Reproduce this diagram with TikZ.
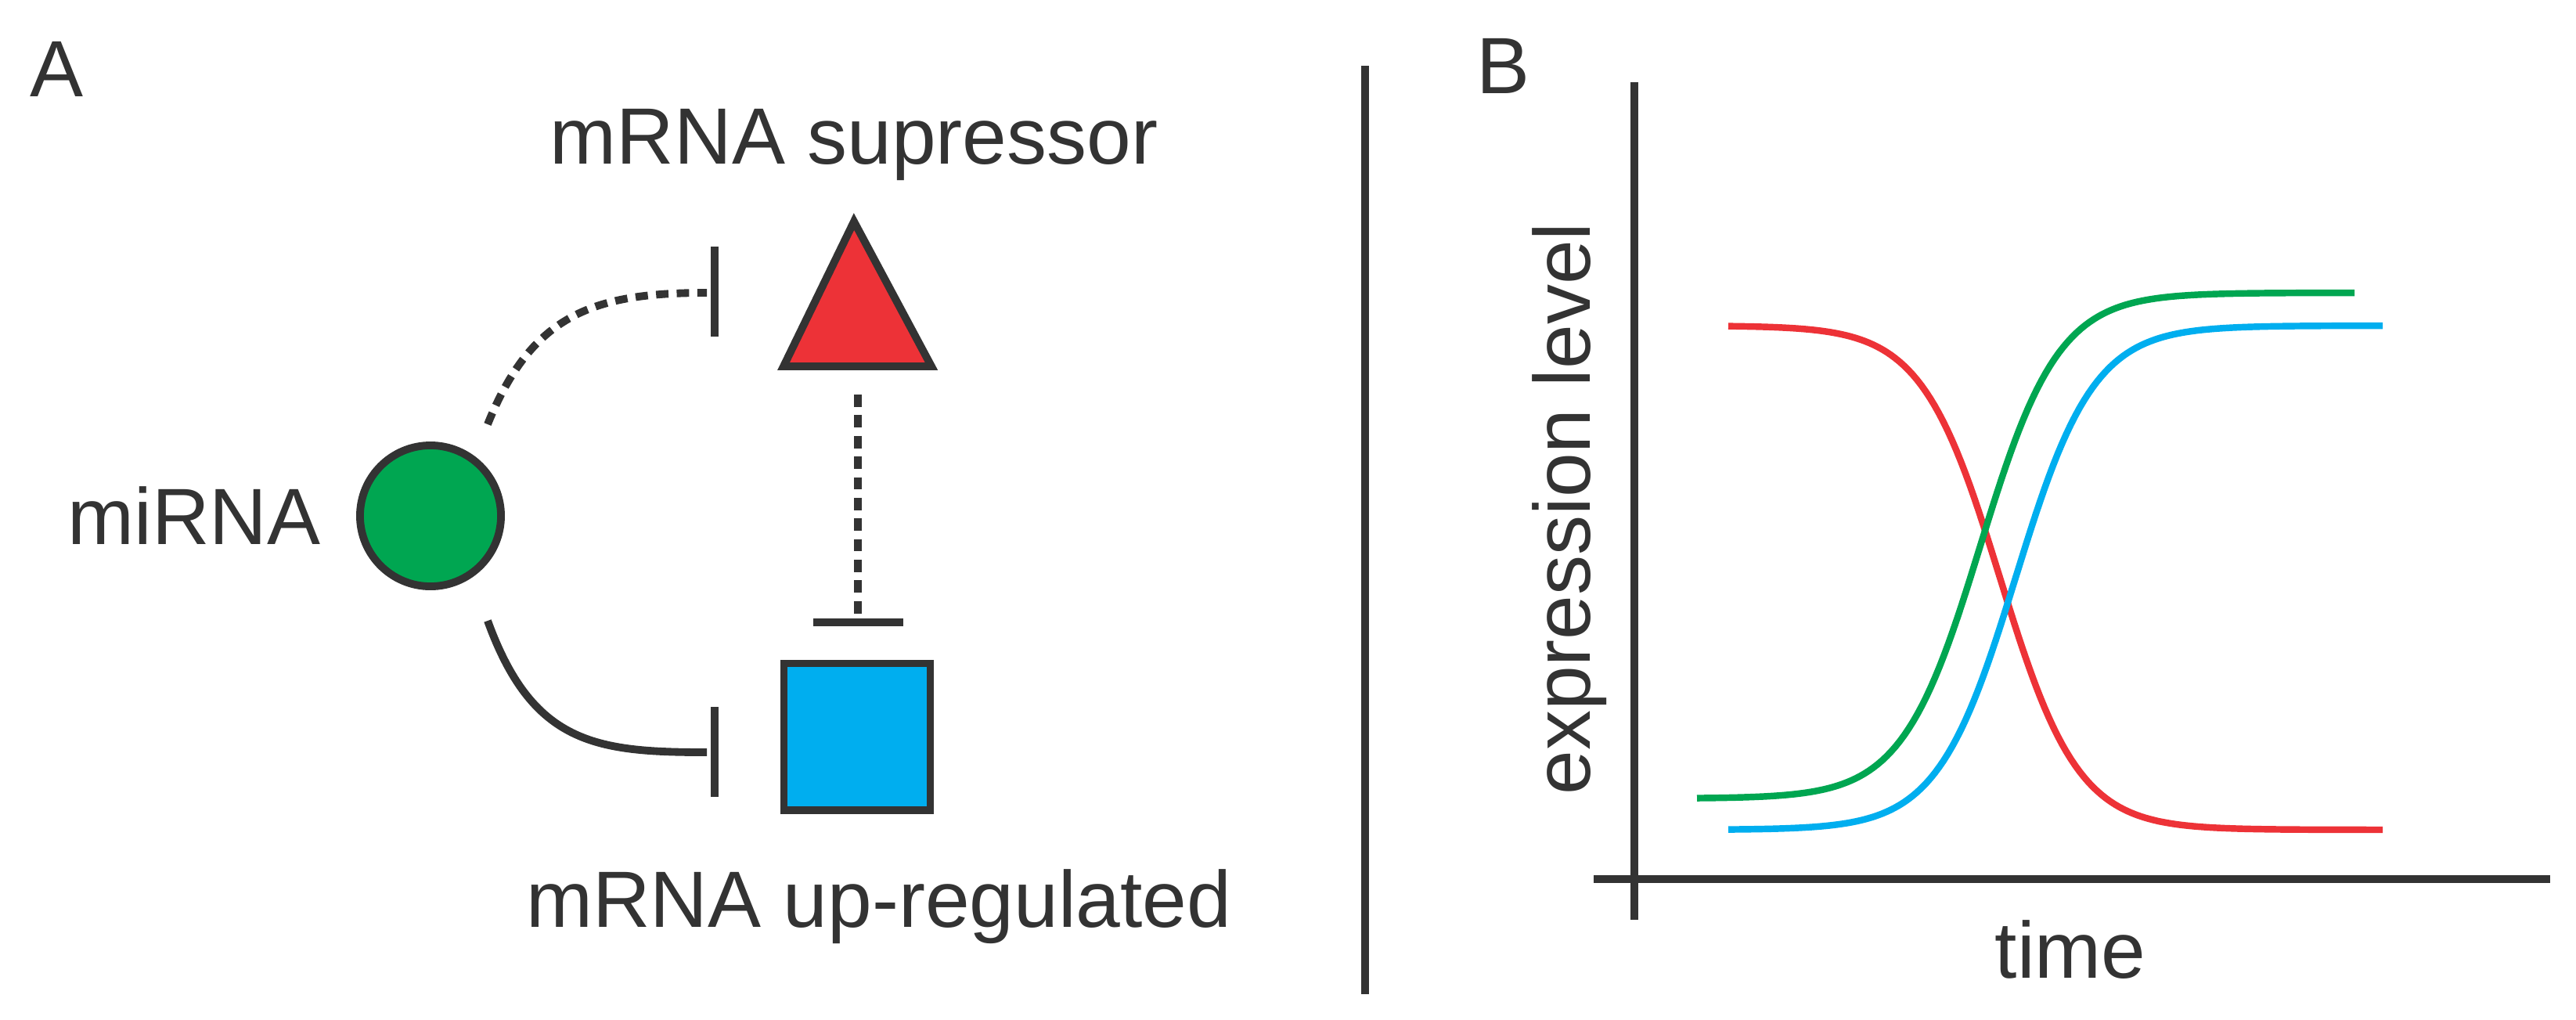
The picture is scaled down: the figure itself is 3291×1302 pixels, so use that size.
\documentclass[tikz,border=0pt]{standalone}
\usepackage{fontspec}
\setmainfont{Liberation Sans}
\begin{document}
\begin{tikzpicture}[x={(0.01cm,0)},y={(0,-0.01cm)},
  dk/.style={draw=black!80,line width=2.8pt},
  lbl/.style={font=\fontsize{29}{32}\selectfont,text=black!80},
  dotl/.style={draw=black!80,line width=2.8pt,dash pattern=on 4.5pt off 3pt},
  crv/.style={line width=2.4pt}]
\definecolor{cg}{HTML}{00A651}\definecolor{cb}{HTML}{00AEEF}\definecolor{cr}{HTML}{ED3237}
\useasboundingbox (0,0) rectangle (3291,1302);
\node[lbl] (A) at (73,88) {A};
\node[lbl] (B) at (1920,84) {B};
\node[lbl] (sup) at (1091,185) {mRNA supressor};
\node[lbl] (up) at (1123,1158) {mRNA up-regulated};
\node[lbl,anchor=east] (mi) at (422,659) {miRNA};
\node[circle,fill=cg,dk,minimum size=1.8cm,inner sep=0] (c) at (550,659) {};
\filldraw[fill=cr,dk,line join=miter] (1091,283) -- (1190,468) -- (1001,468) -- cycle;
\node[fill=cb,dk,minimum size=1.87cm,inner sep=0] (sq) at (1095,941) {};
% dotted curve to triangle
\coordinate (d1) at (623,542); \coordinate (d2) at (903,374);
\draw[dotl] (d1) .. controls (680,400) and (760,374) .. (d2);
\draw[dk] (913,315) -- (913,430);
% vertical dotted
\coordinate (v1) at (1096,504); \coordinate (v2) at (1096,790);
\draw[dotl] (v1) -- (v2);
\draw[dk] (1039,795) -- (1154,795);
% solid curve
\coordinate (s1) at (623,793); \coordinate (s2) at (903,961);
\draw[dk] (s1) .. controls (680,950) and (760,961) .. (s2);
\draw[dk] (913,903) -- (913,1018);
% divider
\draw[dk] (1744,84) -- (1744,1270);
% axes
\draw[dk] (2088,105) -- (2088,1175);
\draw[dk] (2036,1123) -- (3258,1123);
\node[lbl,rotate=90] (yl) at (2005,650) {expression level};
\node[lbl] (xl) at (2645,1213) {time};
% curves
\draw[crv,cr] plot[domain=2208:3044,samples=150,variable=\t] (\t,{416+644*0.5*(1+tanh((\t-2555)/100))});
\draw[crv,cg] plot[domain=2168:3008,samples=150,variable=\t] (\t,{1020-646*0.5*(1+tanh((\t-2530)/100))});
\draw[crv,cb] plot[domain=2208:3044,samples=150,variable=\t] (\t,{1060-644*0.5*(1+tanh((\t-2575)/100))});
\end{tikzpicture}
\end{document}
